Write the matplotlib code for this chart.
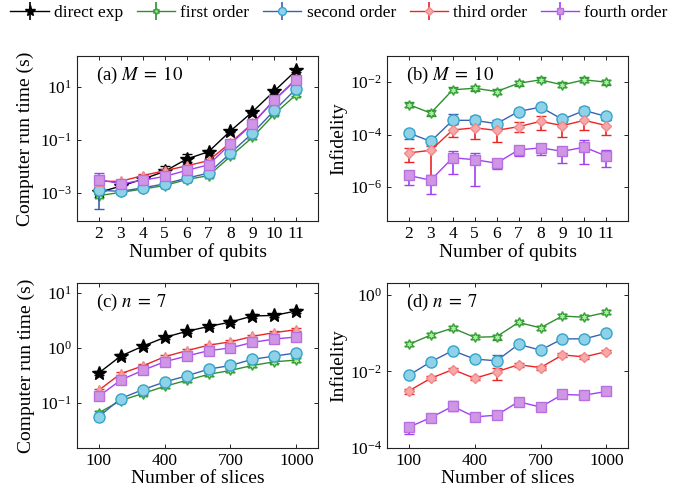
import numpy as np
import matplotlib
matplotlib.use("Agg")
import matplotlib.pyplot as plt
from matplotlib.ticker import FixedLocator, LogFormatterSciNotation

plt.rcParams['font.family'] = ['Liberation Serif', 'DejaVu Serif']
plt.rcParams['mathtext.fontset'] = 'stix'

series = ['direct exp', 'first order', 'second order', 'third order', 'fourth order']
qubits = [2, 3, 4, 5, 6, 7, 8, 9, 10, 11]
slices = [100, 200, 300, 400, 500, 600, 700, 800, 900, 1000]

# (a) run time vs qubits, M = 10
time_q_direct = [1.05e-3, 1.8e-3, 3.3e-3, 6.5e-3, 1.9e-2, 3.6e-2, 0.22, 1.15, 7.1, 43]
time_q_first = [7.9e-4, 1.05e-3, 1.4e-3, 1.9e-3, 3.2e-3, 4.5e-3, 2.4e-2, 0.126, 0.95, 5.2]
time_q_second = [1.26e-3, 1.15e-3, 1.55e-3, 2.2e-3, 3.6e-3, 5.6e-3, 3.2e-2, 0.18, 1.3, 8.7]
time_q_third = [2.75e-3, 2.75e-3, 4.5e-3, 6.9e-3, 1.05e-2, 1.66e-2, 7.9e-2, 0.42, 3.2, 20.4]
time_q_fourth = [3.2e-3, 2.2e-3, 3.0e-3, 4.2e-3, 7.1e-3, 1.15e-2, 7.1e-2, 0.40, 3.3, 18.6]
# error bars, in decades (down, up)
time_q_dn = [[0.05, 0.05, 0.05, 0.10, 0.10, 0.05, 0.05, 0.05, 0.05, 0.05],
             [0.06, 0.05, 0.05, 0.05, 0.05, 0.05, 0.05, 0.05, 0.05, 0.05],
             [0.70, 0.05, 0.05, 0.05, 0.05, 0.05, 0.05, 0.05, 0.05, 0.05],
             [0.05, 0.05, 0.05, 0.05, 0.05, 0.05, 0.05, 0.05, 0.05, 0.05],
             [0.19, 0.05, 0.05, 0.05, 0.05, 0.05, 0.05, 0.05, 0.05, 0.05]]
time_q_up = [[0.05, 0.05, 0.05, 0.21, 0.20, 0.05, 0.05, 0.05, 0.05, 0.05],
             [0.05, 0.05, 0.05, 0.05, 0.05, 0.05, 0.05, 0.05, 0.05, 0.05],
             [0.30, 0.05, 0.05, 0.05, 0.05, 0.05, 0.05, 0.05, 0.05, 0.05],
             [0.05, 0.05, 0.05, 0.05, 0.05, 0.05, 0.05, 0.05, 0.05, 0.05],
             [0.25, 0.05, 0.05, 0.05, 0.05, 0.05, 0.05, 0.05, 0.05, 0.05]]

# (b) infidelity vs qubits, M = 10
inf_q_first = [1.4e-3, 6.6e-4, 5.1e-3, 5.9e-3, 4.4e-3, 9.1e-3, 1.23e-2, 7.9e-3, 1.23e-2, 1.0e-2]
inf_q_second = [1.15e-4, 5.5e-5, 3.5e-4, 3.5e-4, 2.6e-4, 7.6e-4, 1.12e-3, 3.8e-4, 8.3e-4, 4.9e-4]
inf_q_third = [2.0e-5, 2.5e-5, 1.5e-4, 1.8e-4, 1.45e-4, 2.0e-4, 3.2e-4, 2.2e-4, 3.5e-4, 2.2e-4]
inf_q_fourth = [2.75e-6, 1.8e-6, 1.3e-5, 1.1e-5, 8.1e-6, 2.6e-5, 3.1e-5, 2.3e-5, 3.3e-5, 1.5e-5]
inf_q_dn = [[0.10, 0.10, 0.10, 0.10, 0.10, 0.10, 0.10, 0.10, 0.10, 0.10],
            [0.22, 0.11, 0.15, 0.15, 0.15, 0.11, 0.13, 0.10, 0.10, 0.13],
            [0.34, 1.10, 0.28, 0.42, 0.44, 0.22, 0.32, 0.44, 0.38, 0.36],
            [0.36, 0.53, 0.61, 1.00, 0.22, 0.22, 0.28, 0.43, 0.66, 0.42]]
inf_q_up = [[0.10, 0.10, 0.10, 0.10, 0.10, 0.10, 0.10, 0.10, 0.10, 0.10],
            [0.10, 0.10, 0.23, 0.15, 0.13, 0.10, 0.13, 0.09, 0.13, 0.08],
            [0.20, 0.15, 0.23, 0.15, 0.28, 0.17, 0.19, 0.19, 0.23, 0.22],
            [0.17, 0.19, 0.24, 0.25, 0.10, 0.10, 0.14, 0.17, 0.28, 0.22]]

# (c) run time vs slices, n = 7
time_s_direct = [0.35, 0.71, 1.07, 1.55, 2.0, 2.45, 2.95, 3.8, 3.9, 4.7]
time_s_first = [0.066, 0.11, 0.148, 0.2, 0.257, 0.33, 0.39, 0.48, 0.56, 0.6]
time_s_second = [0.056, 0.12, 0.174, 0.24, 0.31, 0.41, 0.48, 0.62, 0.71, 0.81]
time_s_third = [0.17, 0.34, 0.47, 0.69, 0.89, 1.12, 1.29, 1.62, 1.9, 2.14]
time_s_fourth = [0.132, 0.26, 0.39, 0.56, 0.71, 0.89, 1.0, 1.26, 1.45, 1.58]
time_s_err = [0.03] * 10

# (d) infidelity vs slices, n = 7
inf_s_first = [5.1e-2, 8.9e-2, 0.135, 7.8e-2, 8.1e-2, 0.19, 0.138, 0.28, 0.26, 0.35]
inf_s_second = [7.9e-3, 1.78e-2, 3.5e-2, 2.1e-2, 1.9e-2, 5.1e-2, 3.6e-2, 7.1e-2, 7.1e-2, 0.1]
inf_s_third = [3.1e-3, 6.6e-3, 1.12e-2, 6.6e-3, 9.8e-3, 1.5e-2, 1.26e-2, 2.7e-2, 2.4e-2, 3.3e-2]
inf_s_fourth = [3.5e-4, 6.2e-4, 1.23e-3, 6.5e-4, 7.2e-4, 1.62e-3, 1.17e-3, 2.5e-3, 2.4e-3, 3.0e-3]
inf_s_dn = [[0.05, 0.05, 0.05, 0.05, 0.08, 0.05, 0.05, 0.05, 0.05, 0.05],
            [0.05, 0.05, 0.05, 0.05, 0.05, 0.05, 0.05, 0.05, 0.05, 0.05],
            [0.08, 0.05, 0.05, 0.05, 0.22, 0.05, 0.05, 0.05, 0.05, 0.05],
            [0.17, 0.05, 0.12, 0.05, 0.06, 0.05, 0.05, 0.05, 0.05, 0.05]]
inf_s_up = [[0.05, 0.05, 0.05, 0.05, 0.05, 0.05, 0.05, 0.05, 0.05, 0.05],
            [0.05, 0.05, 0.05, 0.05, 0.15, 0.05, 0.05, 0.05, 0.05, 0.05],
            [0.05, 0.05, 0.05, 0.05, 0.11, 0.05, 0.05, 0.05, 0.05, 0.05],
            [0.05, 0.05, 0.14, 0.05, 0.05, 0.05, 0.05, 0.05, 0.05, 0.05]]

line_col = ['black', '#2f8f2f', '#3a62b0', '#ec2424', '#a040f5']
face_col = ['black', '#a8eea0', '#8fd2e8', '#f8a8a8', '#cf96e6']
edge_col = ['black', '#3aa03a', '#35a4cc', '#f08a8a', '#b870e0']
hexagram = (6, 1, 0)
mk_time = ['*', hexagram, 'o', '^', 's']
mk_inf = [None, hexagram, 'o', 'D', 's']
mk_size = [10, 7, 8, 7, 6.5]


def draw(ax, x, ys, dns, ups, idx, markers):
    for y, dn, up, i in zip(ys, dns, ups, idx):
        y = np.array(y)
        lo = y - y * 10 ** (-np.array(dn))
        hi = y * 10 ** np.array(up) - y
        ms = mk_size[i] * (0.8 if markers[i] == 'D' else 1)
        ax.errorbar(x, y, yerr=[lo, hi], color=line_col[i], lw=1, elinewidth=1.2,
                    capsize=3.5, capthick=1.2, marker=markers[i], ms=ms,
                    mfc=face_col[i], mec=edge_col[i], mew=1, zorder=3 + i * 0.1)


def style(ax, xt, yt, xlim, ylim):
    ax.set_yscale('log')
    ax.set_xlim(*xlim)
    ax.set_ylim(*ylim)
    ax.xaxis.set_major_locator(FixedLocator(xt))
    ax.yaxis.set_major_locator(FixedLocator(yt))
    ax.yaxis.set_minor_locator(FixedLocator([]))
    ax.yaxis.set_major_formatter(LogFormatterSciNotation())
    ax.tick_params(direction='in', top=True, right=True, labelsize=12.5,
                   length=3, width=0.7, colors='#222222', labelcolor='black')
    for s in ax.spines.values():
        s.set_linewidth(0.8)
        s.set_color('#222222')


fig = plt.figure(figsize=(6.92, 5.0), dpi=100)
ax_a = fig.add_axes([0.111, 0.558, 0.349, 0.330])
ax_b = fig.add_axes([0.559, 0.558, 0.349, 0.330])
ax_c = fig.add_axes([0.111, 0.104, 0.349, 0.330])
ax_d = fig.add_axes([0.559, 0.104, 0.349, 0.330])

draw(ax_a, qubits, [time_q_first, time_q_second, time_q_fourth, time_q_third, time_q_direct],
     [time_q_dn[1], time_q_dn[2], time_q_dn[4], time_q_dn[3], time_q_dn[0]],
     [time_q_up[1], time_q_up[2], time_q_up[4], time_q_up[3], time_q_up[0]],
     [1, 2, 4, 3, 0], mk_time)
style(ax_a, qubits, [1e-3, 1e-1, 1e1], (1, 12), (10 ** -4.06, 10 ** 2.17))

draw(ax_b, qubits, [inf_q_first, inf_q_second, inf_q_third, inf_q_fourth],
     inf_q_dn, inf_q_up, [1, 2, 3, 4], mk_inf)
style(ax_b, qubits, [1e-6, 1e-4, 1e-2], (1, 12), (10 ** -7.3, 10 ** -1.0))

small = [time_s_err] * 5
draw(ax_c, slices, [time_s_first, time_s_second, time_s_fourth, time_s_third, time_s_direct],
     small, small, [1, 2, 4, 3, 0], mk_time)
style(ax_c, [100, 400, 700, 1000], [1e-1, 1e0, 1e1], (0, 1100), (10 ** -1.82, 10 ** 1.18))

draw(ax_d, slices, [inf_s_first, inf_s_second, inf_s_third, inf_s_fourth],
     inf_s_dn, inf_s_up, [1, 2, 3, 4], mk_inf)
style(ax_d, [100, 400, 700, 1000], [1e-4, 1e-2, 1e0], (0, 1100), (1e-4, 10 ** 0.31))

for ax, lab in [(ax_a, r'(a) $M\;=\;10$'), (ax_b, r'(b) $M\;=\;10$'),
                (ax_c, r'(c) $n\;=\;7$'), (ax_d, r'(d) $n\;=\;7$')]:
    ax.text(0.08, 0.88, lab, transform=ax.transAxes, fontsize=13.5, va='center')

ax_a.set_ylabel('Computer run time (s)', fontsize=14, labelpad=4)
ax_c.set_ylabel('Computer run time (s)', fontsize=14, labelpad=4)
ax_b.set_ylabel('Infidelity', fontsize=14, labelpad=2)
ax_d.set_ylabel('Infidelity', fontsize=14, labelpad=2)
ax_a.set_xlabel('Number of qubits', fontsize=14, labelpad=1)
ax_b.set_xlabel('Number of qubits', fontsize=14, labelpad=1)
ax_c.set_xlabel('Number of slices', fontsize=14, labelpad=1)
ax_d.set_xlabel('Number of slices', fontsize=14, labelpad=1)

# legend with errorbar-style handles
handles = []
leg_mk = ['*', hexagram, 'o', 'D', 's']
for i, name in enumerate(series):
    h = ax_a.errorbar([], [], yerr=[], color=line_col[i], lw=1, elinewidth=1.2, capsize=3,
                      marker=leg_mk[i], ms=mk_size[i] * (0.8 if i == 3 else 1) * (0.7 if i != 0 else 0.8),
                      mfc=face_col[i], mec=edge_col[i], label=name)
    handles.append(h)
fig.legend(handles, series, loc='center', bbox_to_anchor=(0.49, 0.974), ncol=5,
           frameon=False, fontsize=12.5, handlelength=2.2, handletextpad=0.3,
           columnspacing=0.8)

fig.savefig('out.png', dpi=100)
